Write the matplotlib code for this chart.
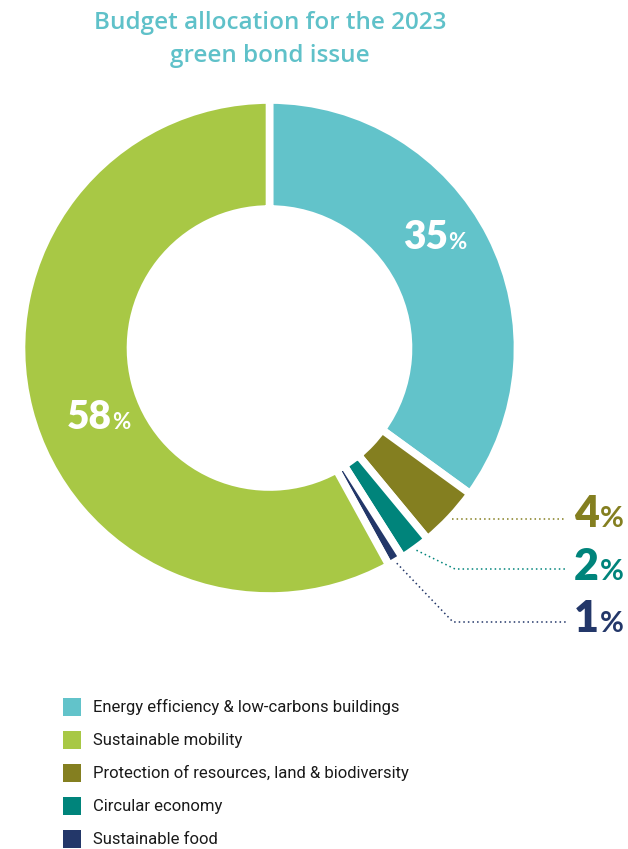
import numpy as np
import matplotlib.pyplot as plt
from matplotlib.patches import Rectangle

# dati del grafico
categorie = ["Energy efficiency & low-carbons buildings",
             "Sustainable mobility",
             "Protection of resources, land & biodiversity",
             "Circular economy",
             "Sustainable food"]
quote = [35, 58, 4, 2, 1]
colori = ["#62C3CA", "#A8C845", "#847F20", "#00847B", "#233769"]

# ordine delle fette in senso orario partendo dall'alto
ordine = [0, 2, 3, 4, 1]

W, H = 628, 849
fig = plt.figure(figsize=(W / 100, H / 100), dpi=100)
ax = fig.add_axes([0, 0, 1, 1])

def Y(y):
    return H - y          # coordinate in pixel dall'alto

cx, cy, R, r_in = 269.5, 348, 248, 139

vals = [quote[i] for i in ordine]
cols = [colori[i] for i in ordine]
ax.pie(vals, colors=cols, startangle=90, counterclock=False,
       center=(cx, Y(cy)), radius=R, frame=True,
       wedgeprops=dict(width=R - r_in, edgecolor="white", linewidth=5.5))

ax.set_xlim(0, W)
ax.set_ylim(0, H)
ax.set_aspect("equal")
ax.axis("off")

# titolo
tcol = "#5FC1C9"
ax.text(270, Y(29), "Budget allocation for the 2023", ha="center", va="baseline",
        fontsize=17.5, color=tcol, fontfamily="Open Sans", fontweight="semibold")
ax.text(270, Y(62), "green bond issue", ha="center", va="baseline",
        fontsize=17.5, color=tcol, fontfamily="Open Sans", fontweight="semibold")

# etichette percentuali
def etichetta(x, y, num, col, fs_n, fs_p):
    ax.text(x, Y(y), str(num), ha="right", va="baseline", fontsize=fs_n,
            color=col, fontfamily="Lato", fontweight="heavy")
    ax.text(x + 0.5, Y(y), "%", ha="left", va="baseline", fontsize=fs_p,
            color=col, fontfamily="Lato", fontweight="bold")

etichetta(448, 249, quote[0], "white", 28, 16)
etichetta(112, 429, quote[1], "white", 28, 16)

# fette piccole con linee di richiamo tratteggiate
cum = np.cumsum([0] + vals)
small = {2: (None, 527), 3: ((455, 569), 580), 4: ((453, 622), 632)}
for k, i in enumerate(ordine):
    if i not in small:
        continue
    mid = 90 - 360 * (cum[k] + vals[k] / 2) / 100
    a = np.deg2rad(mid)
    x0 = cx + (R + 2) * np.cos(a)
    y0 = cy - (R + 2) * np.sin(a)
    elbow, base = small[i]
    if elbow is None:
        xs, ys = [x0, 566], [y0, y0]
    else:
        xs, ys = [x0, elbow[0], 566], [y0, elbow[1], elbow[1]]
    ax.plot(xs, [Y(v) for v in ys], color=colori[i], lw=1.1,
            linestyle=(0, (1, 2)))
    etichetta(599, base, quote[i], colori[i], 31, 21)

# legenda
for j, (lab, c) in enumerate(zip(categorie, colori)):
    ytop = 698 + 33 * j
    ax.add_patch(Rectangle((63, Y(ytop + 18)), 18, 18, color=c, lw=0))
    ax.text(93, Y(ytop + 9), lab, ha="left", va="center", fontsize=12,
            color="#1a1a1a", fontfamily="Roboto")

plt.savefig("out.png", dpi=100)
